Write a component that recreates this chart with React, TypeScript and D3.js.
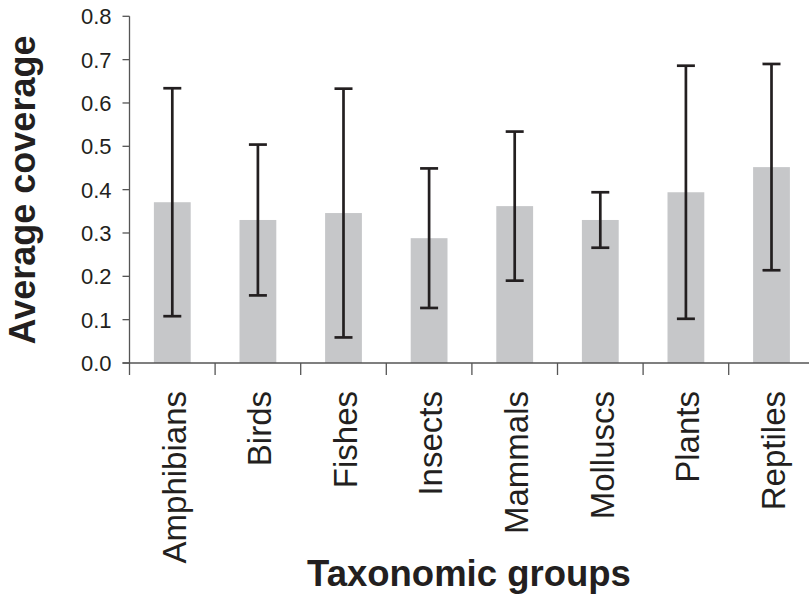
import { useEffect, useRef } from "react"
import * as d3 from "d3"

const groups = [
  "Amphibians",
  "Birds",
  "Fishes",
  "Insects",
  "Mammals",
  "Molluscs",
  "Plants",
  "Reptiles",
]
const meanCoverage = [0.371, 0.33, 0.346, 0.288, 0.362, 0.33, 0.394, 0.452]
const errCoverage = [0.263, 0.174, 0.287, 0.161, 0.172, 0.064, 0.292, 0.238]
const yTicks = [0, 0.1, 0.2, 0.3, 0.4, 0.5, 0.6, 0.7, 0.8]

const FONT = "'Liberation Sans', Arial, Helvetica, sans-serif"

function App() {
  const ref = useRef<SVGSVGElement>(null)
  const width = 809
  const height = 596
  const left = 129.5
  const step = 85.6
  const top = 16.3
  const bottom = 363

  useEffect(() => {
    const svg = d3.select(ref.current)
    svg.selectAll("*").remove()

    const data = groups.map((g, i) => ({
      group: g,
      mean: meanCoverage[i],
      err: errCoverage[i],
    }))

    const x = d3
      .scaleBand()
      .domain(groups)
      .range([left, left + step * groups.length])
      .padding(0)

    const y = d3.scaleLinear().domain([0, 0.8]).range([bottom, top])

    const barW = x.bandwidth() * 0.43
    const axisColor = "#555"

    // bars
    svg
      .append("g")
      .selectAll("rect")
      .data(data)
      .enter()
      .append("rect")
      .attr("x", (d) => x(d.group)! + x.bandwidth() / 2 - barW / 2)
      .attr("y", (d) => y(d.mean))
      .attr("width", barW)
      .attr("height", (d) => bottom - y(d.mean))
      .attr("fill", "#c6c7c9")

    // y axis
    const yAxis = svg.append("g")
    yAxis
      .append("line")
      .attr("x1", left)
      .attr("x2", left)
      .attr("y1", y(0.8))
      .attr("y2", bottom + 12)
      .attr("stroke", axisColor)
      .attr("stroke-width", 1.3)
    yAxis
      .selectAll("line.tick")
      .data(yTicks)
      .enter()
      .append("line")
      .attr("class", "tick")
      .attr("x1", left - 7)
      .attr("x2", left)
      .attr("y1", (d) => y(d))
      .attr("y2", (d) => y(d))
      .attr("stroke", axisColor)
      .attr("stroke-width", 1.3)
    yAxis
      .selectAll("text")
      .data(yTicks)
      .enter()
      .append("text")
      .attr("x", left - 18)
      .attr("y", (d) => y(d))
      .attr("dy", "0.36em")
      .attr("text-anchor", "end")
      .attr("font-family", FONT)
      .attr("font-size", 22)
      .attr("fill", "#231f20")
      .text((d) => d.toFixed(1))

    // x axis
    const xAxis = svg.append("g")
    xAxis
      .append("line")
      .attr("x1", left - 7)
      .attr("x2", width)
      .attr("y1", bottom)
      .attr("y2", bottom)
      .attr("stroke", axisColor)
      .attr("stroke-width", 1.3)
    xAxis
      .selectAll("line.tick")
      .data(groups.slice(1))
      .enter()
      .append("line")
      .attr("class", "tick")
      .attr("x1", (d) => x(d)!)
      .attr("x2", (d) => x(d)!)
      .attr("y1", bottom)
      .attr("y2", bottom + 12)
      .attr("stroke", axisColor)
      .attr("stroke-width", 1.3)
    xAxis
      .selectAll("text")
      .data(groups)
      .enter()
      .append("text")
      .attr(
        "transform",
        (d) => `translate(${x(d)! + x.bandwidth() / 2},391) rotate(-90)`
      )
      .attr("dy", "0.4em")
      .attr("text-anchor", "end")
      .attr("font-family", FONT)
      .attr("font-size", 33)
      .attr("fill", "#231f20")
      .text((d) => d)

    // error bars
    const errG = svg
      .append("g")
      .attr("stroke", "#231f20")
      .attr("stroke-width", 2.7)
    const cap = 9
    data.forEach((d) => {
      const cx = x(d.group)! + x.bandwidth() / 2
      const hi = y(d.mean + d.err)
      const lo = y(d.mean - d.err)
      errG.append("line").attr("x1", cx).attr("x2", cx).attr("y1", hi).attr("y2", lo)
      errG.append("line").attr("x1", cx - cap).attr("x2", cx + cap).attr("y1", hi).attr("y2", hi)
      errG.append("line").attr("x1", cx - cap).attr("x2", cx + cap).attr("y1", lo).attr("y2", lo)
    })

    // axis titles
    svg
      .append("text")
      .attr("transform", `translate(35,190) rotate(-90)`)
      .attr("text-anchor", "middle")
      .attr("font-family", FONT)
      .attr("font-weight", "bold")
      .attr("font-size", 36)
      .attr("fill", "#231f20")
      .text("Average coverage")

    svg
      .append("text")
      .attr("x", 469)
      .attr("y", 586)
      .attr("text-anchor", "middle")
      .attr("font-family", FONT)
      .attr("font-weight", "bold")
      .attr("font-size", 36.5)
      .attr("fill", "#231f20")
      .text("Taxonomic groups")
  }, [])

  return (
    <svg
      ref={ref}
      width={width}
      height={height}
      style={{ position: "absolute", left: 0, top: 0, background: "#fff" }}
    ></svg>
  )
}

export default App
